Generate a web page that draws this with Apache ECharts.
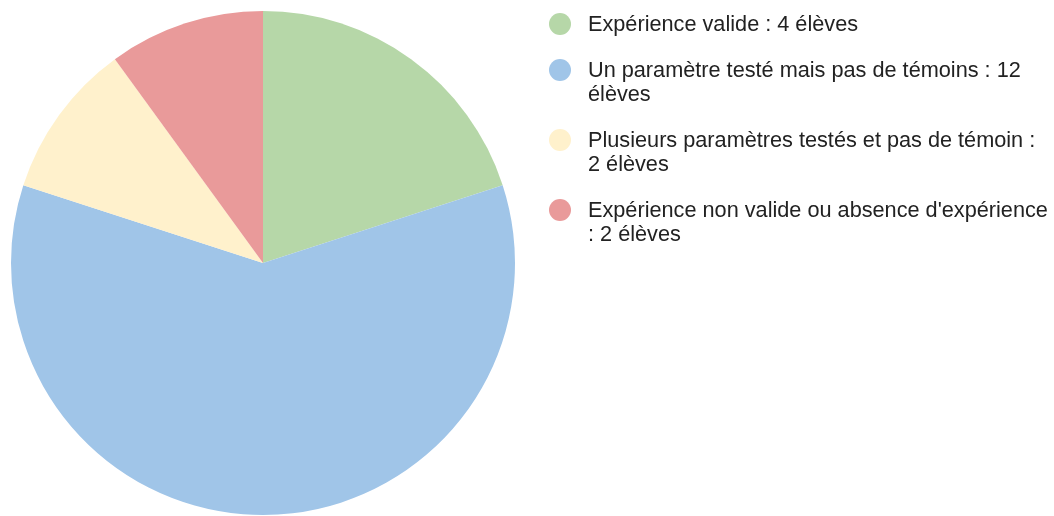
<!DOCTYPE html>
<html>
<head>
<meta charset="utf-8">
<script src="https://cdn.jsdelivr.net/npm/echarts@6/dist/echarts.min.js"></script>
<style>
html,body{margin:0;padding:0;background:#fff;}
#chart{width:1054px;height:516px;}
</style>
</head>
<body>
<div id="chart"></div>
<script>
const categories = [
  "Expérience valide : 4 élèves",
  "Un paramètre testé mais pas de témoins : 12 élèves",
  "Plusieurs paramètres testés et pas de témoin : 2 élèves",
  "Expérience non valide ou absence d'expérience : 2 élèves"
];
const legendLabels = [
  "Expérience valide : 4 élèves",
  "\nUn paramètre testé mais pas de témoins : 12\nélèves",
  "\nPlusieurs paramètres testés et pas de témoin :\n2 élèves",
  "\nExpérience non valide ou absence d'expérience\n: 2 élèves"
];
const values = [4, 12, 2, 2];
const colors = ["#b6d7a8", "#a0c5e8", "#fff1cc", "#e99a9a"];

const chart = echarts.init(document.getElementById('chart'), null, {renderer: 'canvas'});
chart.setOption({
  animation: false,
  color: colors,
  legend: {
    orient: 'vertical',
    left: 549,
    top: 13,
    padding: 0,
    itemGap: -2,
    itemWidth: 22,
    itemHeight: 24,
    icon: 'path://M11,0A11,11,0,1,1,11,22A11,11,0,1,1,11,0ZM11,24',
    data: categories,
    formatter: function (name) {
      return legendLabels[categories.indexOf(name)];
    },
    textStyle: {
      fontFamily: 'Liberation Sans, Arial, sans-serif',
      fontSize: 21.7,
      lineHeight: 24,
      padding: [0, 0, 0, 12],
      color: '#222222'
    },
    selectedMode: false
  },
  series: [{
    type: 'pie',
    center: [263, 263],
    radius: [0, 252],
    startAngle: 90,
    clockwise: true,
    label: { show: false },
    labelLine: { show: false },
    itemStyle: { borderWidth: 0 },
    emphasis: { disabled: true },
    data: categories.map((c, i) => ({ name: c, value: values[i] }))
  }]
});
</script>
</body>
</html>
